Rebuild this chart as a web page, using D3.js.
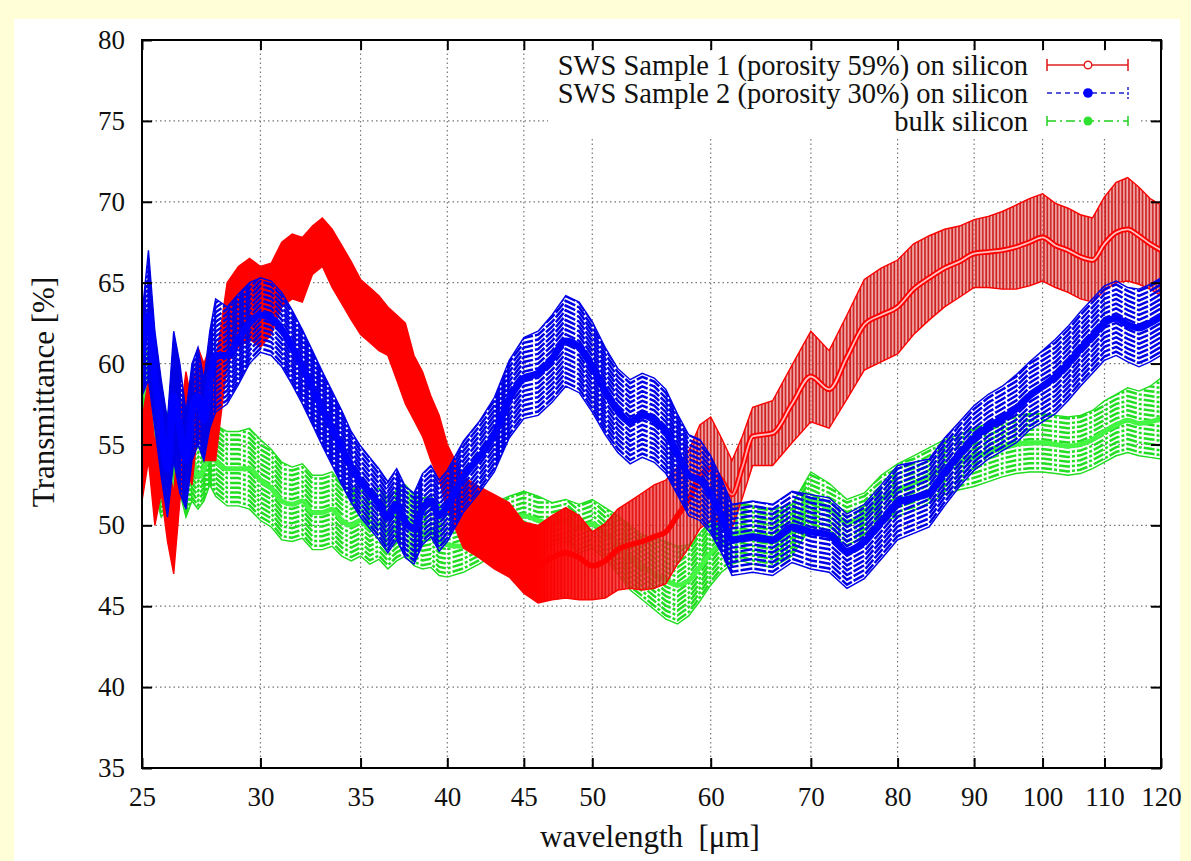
<!DOCTYPE html>
<html>
<head>
<meta charset="utf-8">
<script src="https://cdn.jsdelivr.net/npm/d3@7"></script>
<style>
  body { margin: 0; background: #fffed6; }
  svg text { font-family: "Liberation Serif", "Times New Roman", serif; fill: #111; }
</style>
</head>
<body>
<div id="canvas"></div>
<script>
// wavelength grid (um)
const wavelength = [25, 25.25, 25.5, 25.75, 26, 26.25, 26.5, 26.75, 27, 27.25, 27.5, 27.75, 28,
  28.5, 29, 29.5, 30, 30.5, 31, 31.5, 32, 32.5, 33, 33.5, 34, 34.5, 35, 35.5, 36, 36.5, 37, 37.5, 38, 38.5, 39, 39.5, 40,
  41, 42, 43, 44, 45, 46, 47, 48, 49, 50, 51, 52, 53, 54, 55, 56, 57, 58, 59, 60, 61, 62, 63, 64,
  66, 68, 70, 72, 74, 76, 78, 80, 82, 84, 86, 88, 90, 92, 94, 96, 98, 100, 102, 104, 106, 108, 110, 112, 114, 116, 118, 120];

// SWS sample 1 (porosity 59%)
const sample1Value = [54, 56.5, 52.5, 54.5, 51.5, 49.5, 54, 56.5, 55, 58.5, 57, 57.5, 57,
  62.5, 63.5, 64, 63.5, 64, 65.5, 66, 65.8, 67, 67.5, 66.5, 65.5, 64.5, 63.5, 63, 62.5, 62, 61, 60, 58.5, 57.5, 56, 54.8, 53,
  50.8, 50.2, 49.6, 49.1, 48, 47.6, 48, 48.3, 48, 47.5, 47.8, 48.5, 48.8, 49, 49.3, 49.6, 50.6, 51.6, 53, 53.5, 52.8, 51.9, 53.6, 55.5,
  55.7, 57.5, 59.2, 58.4, 60.4, 62.4, 63, 63.5, 64.6, 65.3, 65.9, 66.3, 66.8, 66.9, 67, 67.2, 67.5, 67.8, 67.3, 67, 66.6, 66.4, 67.4, 68.1, 68.3, 67.9, 67.4, 67];
const sample1Error = [2.5, 2.5, 2.5, 2.5, 2.5, 2.5, 2.5, 3, 2.5, 2.5, 3, 3.5, 3,
  2.5, 2.5, 2.5, 2.5, 2.2, 2, 2, 2, 1.5, 1.5, 1.8, 1.8, 1.8, 1.7, 1.7, 1.7, 1.5, 2, 2.5, 2, 2, 2, 2, 2,
  2.2, 2.2, 2.3, 2.3, 2.2, 2.4, 2.6, 2.8, 2.6, 2.1, 2.3, 2.5, 2.7, 3, 3.2, 3.2, 3, 3, 3.2, 3.2, 2.6, 2.1, 1.9, 1.8,
  2, 2.4, 2.8, 2.4, 2.6, 2.8, 2.9, 2.9, 2.8, 2.6, 2.4, 2.2, 2.1, 2.2, 2.4, 2.6, 2.7, 2.7, 2.6, 2.6, 2.6, 2.6, 2.9, 3.1, 3.2, 3, 2.8, 2.8];

// SWS sample 2 (porosity 30%)
const sample2Value = [60.5, 63, 59, 56, 53.5, 58, 56, 54, 57, 58, 56.5, 59, 60.5,
  60.5, 61.5, 62.5, 63, 62.8, 62.1, 61, 59.8, 58.5, 57.2, 56, 54.8, 53.6, 52.7, 52, 51.3, 50.5, 51.3, 50.2, 49.8, 51, 51.5, 50.6, 51.2,
  53, 54.2, 55.6, 57.8, 59.1, 59.4, 60.3, 61.4, 61, 59.8, 58.3, 57.1, 56.4, 56.8, 56.5, 55.8, 54.4, 53.1, 52.8, 51.9, 50.6, 49.1, 49.2, 49.3,
  49.1, 49.9, 49.6, 49.4, 48.4, 49, 50.2, 51.4, 51.7, 52, 53.3, 54.4, 55.4, 56.1, 56.6, 57.2, 58, 58.6, 59.2, 60, 60.9, 61.7, 62.5, 62.8, 62.4, 62.2, 62.5, 62.9];
const sample2Error = [2.5, 4, 3, 3, 3, 4, 4, 3, 3, 3, 2.5, 3, 3.5,
  3, 2.8, 2.5, 2.3, 2.3, 2.3, 2.3, 2.3, 2.3, 2.3, 2.3, 2.3, 2.2, 2.2, 2.2, 2.2, 2.2, 2.2, 2.2, 2.2, 2.2, 2.2, 2.2, 2.2,
  2.2, 2.2, 2.3, 2.4, 2.5, 2.6, 2.7, 2.8, 2.8, 2.8, 2.7, 2.6, 2.6, 2.6, 2.6, 2.6, 2.5, 2.5, 2.5, 2.4, 2.3, 2.2, 2.2, 2.2,
  2.2, 2.2, 2.3, 2.3, 2.3, 2.3, 2.3, 2.3, 2.2, 2.1, 2.1, 2, 2, 2, 2, 2.1, 2.1, 2.2, 2.3, 2.3, 2.3, 2.3, 2.3, 2.3, 2.3, 2.4, 2.4, 2.4];

// bulk silicon
const bulkValue = [58.5, 57.5, 55, 53.5, 54, 52, 54.5, 53, 54, 53, 53.5, 54.5, 54,
  53.5, 53.5, 53.5, 52.8, 52.3, 51.5, 51.3, 51.5, 50.8, 50.8, 51, 50.3, 50, 50.3, 49.8, 50.1, 49.5, 50, 50.3, 49.7, 49.5, 49.6, 49.1, 48.8,
  48.7, 49.2, 49.8, 50.3, 50.6, 50.3, 50.1, 50.3, 49.8, 50.1, 49.5, 48.8, 48, 47.4, 47, 46.6, 46.3, 46.6, 47.4, 48.3, 48.9, 49.4, 49.6, 49.4,
  49.2, 49.7, 51.6, 51, 50.2, 50.6, 51.6, 52.2, 52.6, 53.1, 53.6, 53.9, 54.2, 54.5, 54.8, 55, 55.1, 55.1, 55, 54.9, 55, 55.3, 55.8, 56.2, 56.5, 56.3, 56.4, 56.6];
const bulkError = [3, 3, 3, 3, 3, 2.5, 2.5, 2.5, 2.5, 2, 2, 2, 2.2,
  2.3, 2.3, 2.5, 2.5, 2.4, 2.4, 2.3, 2.3, 2.3, 2.3, 2.3, 2.2, 2.2, 2.2, 2.2, 2.2, 2.2, 2.2, 2.2, 2.2, 2.2, 2.2, 2.2, 2,
  1.6, 1.6, 1.6, 1.5, 1.5, 1.5, 1.3, 1.3, 1.5, 1.5, 1.6, 1.8, 2, 2, 2.2, 2.4, 2.4, 2.2, 2.1, 2, 1.8, 1.8, 1.8, 1.8,
  1.8, 1.6, 1.7, 1.6, 1.4, 1.4, 1.5, 1.6, 1.7, 1.7, 1.7, 1.7, 1.8, 1.8, 1.8, 1.8, 1.8, 1.8, 1.8, 1.8, 1.8, 1.8, 1.9, 1.9, 2, 2, 2.2, 2.5];

const xTicks = [25, 30, 35, 40, 45, 50, 60, 70, 80, 90, 100, 110, 120];
const yTicks = [35, 40, 45, 50, 55, 60, 65, 70, 75, 80];
const legendLabels = ["SWS Sample 1 (porosity 59%) on silicon", "SWS Sample 2 (porosity 30%) on silicon", "bulk silicon"];

const width = 1191;
const height = 861;
const margin = { top: 40, left: 142, bottom: 93, right: 30 };
const iwidth = width - margin.left - margin.right;
const iheight = height - margin.top - margin.bottom;

const svg = d3.select("#canvas").append("svg")
    .attr("width", width)
    .attr("height", height);

svg.append("rect")
    .attr("x", 14).attr("y", 19)
    .attr("width", 1166).attr("height", height - 19)
    .style("fill", "#ffffff");

const defs = svg.append("defs");
const g = svg.append("g").attr("transform", `translate(${margin.left},${margin.top})`);

const x = d3.scaleLog().domain([25, 120]).range([0, iwidth]);
const y = d3.scaleLinear().domain([35, 80]).range([iheight, 0]);

// grid
g.append("g").selectAll("line").data(xTicks.slice(1, -1)).enter().append("line")
    .attr("x1", d => x(d)).attr("x2", d => x(d))
    .attr("y1", 0).attr("y2", iheight)
    .style("stroke", "#777").style("stroke-width", 1.2).style("stroke-dasharray", "1.5,3");
g.append("g").selectAll("line").data(yTicks.slice(1, -1)).enter().append("line")
    .attr("x1", 0).attr("x2", iwidth)
    .attr("y1", d => y(d)).attr("y2", d => y(d))
    .style("stroke", "#777").style("stroke-width", 1.2).style("stroke-dasharray", "1.5,3");

// legend sits on a white box over the grid
g.append("rect")
    .attr("x", 406).attr("y", 12).attr("width", 592).attr("height", 85)
    .style("fill", "#fff");

defs.append("clipPath").attr("id", "plot")
    .append("rect").attr("width", iwidth).attr("height", iheight);

const hatch = defs.append("pattern").attr("id", "hatch")
    .attr("patternUnits", "userSpaceOnUse").attr("width", 3.4).attr("height", 10);
hatch.append("rect").attr("width", 3.4).attr("height", 10).style("fill", "#e86060").style("fill-opacity", 0.5);
hatch.append("line").attr("x1", 1).attr("x2", 1).attr("y1", 0).attr("y2", 10)
    .style("stroke", "#cc1c1c").style("stroke-width", 1.7);

const frac = w => x(w) / iwidth;
const solidFade = defs.append("linearGradient").attr("id", "solidFade")
    .attr("gradientUnits", "userSpaceOnUse").attr("x1", 0).attr("x2", iwidth).attr("y1", 0).attr("y2", 0);
solidFade.append("stop").attr("offset", frac(46)).attr("stop-color", "#ff0000").attr("stop-opacity", 1);
solidFade.append("stop").attr("offset", frac(60)).attr("stop-color", "#ff0000").attr("stop-opacity", 0);
const innerFade = defs.append("linearGradient").attr("id", "innerFade")
    .attr("gradientUnits", "userSpaceOnUse").attr("x1", 0).attr("x2", iwidth).attr("y1", 0).attr("y2", 0);
innerFade.append("stop").attr("offset", frac(58)).attr("stop-color", "#ffc0c0").attr("stop-opacity", 0);
innerFade.append("stop").attr("offset", frac(64)).attr("stop-color", "#ffc0c0").attr("stop-opacity", 1);

// drawing order: bulk, sample 1, sample 2 (dashed error bars leave gaps)
const series = [
    { id: "bulk", val: bulkValue, err: bulkError, color: "#22dd22", line: "#44f544", lineWidth: 5, stripe: 4.8, dash: "11,2,3,2" },
    { id: "s1", val: sample1Value, err: sample1Error, color: "#ff0000", line: "#ff0000", lineWidth: 5.5, stripe: 0 },
    { id: "s2", val: sample2Value, err: sample2Error, color: "#0000e6", line: "#0000ff", lineWidth: 7, stripe: 4.8, dash: "12,2" }
];

const area = d3.area().x(d => x(d.w)).y0(d => y(d.lo)).y1(d => y(d.hi));
const lineTop = d3.line().x(d => x(d.w)).y(d => y(d.hi));
const lineLow = d3.line().x(d => x(d.w)).y(d => y(d.lo));
const lineMid = d3.line().x(d => x(d.w)).y(d => y(d.v)).curve(d3.curveMonotoneX);

const plot = g.append("g").attr("clip-path", "url(#plot)");

series.forEach(s => {
    const rows = wavelength.map((w, i) => ({ w: w, v: s.val[i], lo: s.val[i] - s.err[i], hi: s.val[i] + s.err[i] }));
    const layer = plot.append("g");

    if (s.id == "s1") {
        layer.append("path").datum(rows).attr("d", area).style("fill", "url(#hatch)");
        layer.append("path").datum(rows).attr("d", area).style("fill", "url(#solidFade)");
    } else {
        defs.append("clipPath").attr("id", "band-" + s.id)
            .append("path").datum(rows).attr("d", area);
        const stripes = layer.append("g").attr("clip-path", `url(#band-${s.id})`);
        for (let k = 0; k <= 30; k++) {
            stripes.append("path").datum(rows)
                .attr("d", d3.line().x(d => x(d.w)).y(d => y(d.lo) - k * s.stripe + 1))
                .style("fill", "none").style("stroke", s.color).style("stroke-width", 2.5)
                .style("stroke-dasharray", s.dash);
        }
    }
    layer.append("path").datum(rows).attr("d", lineTop)
        .style("fill", "none").style("stroke", s.color).style("stroke-width", 1.4);
    layer.append("path").datum(rows).attr("d", lineLow)
        .style("fill", "none").style("stroke", s.color).style("stroke-width", 1.4);

    layer.append("path").datum(rows).attr("d", lineMid)
        .style("fill", "none").style("stroke", s.line).style("stroke-width", s.lineWidth)
        .style("stroke-linejoin", "round");
    if (s.id == "s1") {
        layer.append("path").datum(rows).attr("d", lineMid)
            .style("fill", "none").style("stroke", "url(#innerFade)").style("stroke-width", 1.8);
    }
});

// axes, ticks pointing inward, mirrored on top and right
const fmt = d3.format("d");
g.append("g")
    .attr("transform", `translate(0,${iheight})`)
    .call(d3.axisBottom(x).tickValues(xTicks).tickFormat(fmt).tickSize(-10).tickPadding(19))
    .call(a => a.select(".domain").remove());
g.append("g")
    .call(d3.axisTop(x).tickValues(xTicks).tickFormat("").tickSize(-10))
    .call(a => a.select(".domain").remove());
g.append("g")
    .call(d3.axisLeft(y).tickValues(yTicks).tickFormat(fmt).tickSize(-10).tickPadding(17))
    .call(a => a.select(".domain").remove());
g.append("g")
    .attr("transform", `translate(${iwidth},0)`)
    .call(d3.axisRight(y).tickValues(yTicks).tickFormat("").tickSize(-10))
    .call(a => a.select(".domain").remove());
g.selectAll(".tick line").style("stroke", "#000").style("stroke-width", 2);
g.selectAll(".tick text").style("font-size", "27px").style("fill", "#111")
    .style("font-family", "Liberation Serif");

g.append("rect")
    .attr("width", iwidth).attr("height", iheight)
    .style("fill", "none").style("stroke", "#000").style("stroke-width", 2);

// legend
const legend = g.append("g");
const rowY = [25, 53, 81];
legend.selectAll("text").data(legendLabels).enter().append("text")
    .attr("x", 886).attr("y", (d, i) => rowY[i]).attr("dy", "0.35em")
    .attr("text-anchor", "end")
    .style("font-size", "28.5px")
    .text(d => d);

const lx0 = 905, lx1 = 986, lxm = 946;
// sample 1
legend.append("line").attr("x1", lx0).attr("x2", lx1).attr("y1", rowY[0]).attr("y2", rowY[0])
    .style("stroke", "#e02020").style("stroke-width", 1.6);
[lx0, lx1].forEach(v => legend.append("line").attr("x1", v).attr("x2", v)
    .attr("y1", rowY[0] - 6).attr("y2", rowY[0] + 6).style("stroke", "#e02020").style("stroke-width", 1.6));
legend.append("circle").attr("cx", lxm).attr("cy", rowY[0]).attr("r", 3.8)
    .style("fill", "#fff").style("stroke", "#e02020").style("stroke-width", 1.5);
// sample 2
legend.append("line").attr("x1", lx0).attr("x2", lx1).attr("y1", rowY[1]).attr("y2", rowY[1])
    .style("stroke", "#2020d0").style("stroke-width", 1.5).style("stroke-dasharray", "5,4");
legend.append("line").attr("x1", lx1).attr("x2", lx1).attr("y1", rowY[1] - 6).attr("y2", rowY[1] + 6)
    .style("stroke", "#2020d0").style("stroke-width", 1.5).style("stroke-dasharray", "3,2");
legend.append("circle").attr("cx", lxm).attr("cy", rowY[1]).attr("r", 4.8).style("fill", "#0000ff");
// bulk
legend.append("line").attr("x1", lx0).attr("x2", lx1).attr("y1", rowY[2]).attr("y2", rowY[2])
    .style("stroke", "#20d020").style("stroke-width", 1.5).style("stroke-dasharray", "9,4,2,4");
[lx0, lx1].forEach(v => legend.append("line").attr("x1", v).attr("x2", v)
    .attr("y1", rowY[2] - 5).attr("y2", rowY[2] + 5).style("stroke", "#20d020").style("stroke-width", 1.5));
legend.append("circle").attr("cx", lxm).attr("cy", rowY[2]).attr("r", 4.5).style("fill", "#30e030");

// axis titles
svg.append("text")
    .attr("transform", "translate(54,392) rotate(-90)")
    .attr("text-anchor", "middle")
    .style("font-size", "31px")
    .text("Transmittance [%]");
svg.append("text")
    .attr("x", 650).attr("y", 847)
    .attr("text-anchor", "middle")
    .style("font-size", "31px")
    .style("white-space", "pre")
    .text("wavelength  [\u03bcm]");
</script>
</body>
</html>
